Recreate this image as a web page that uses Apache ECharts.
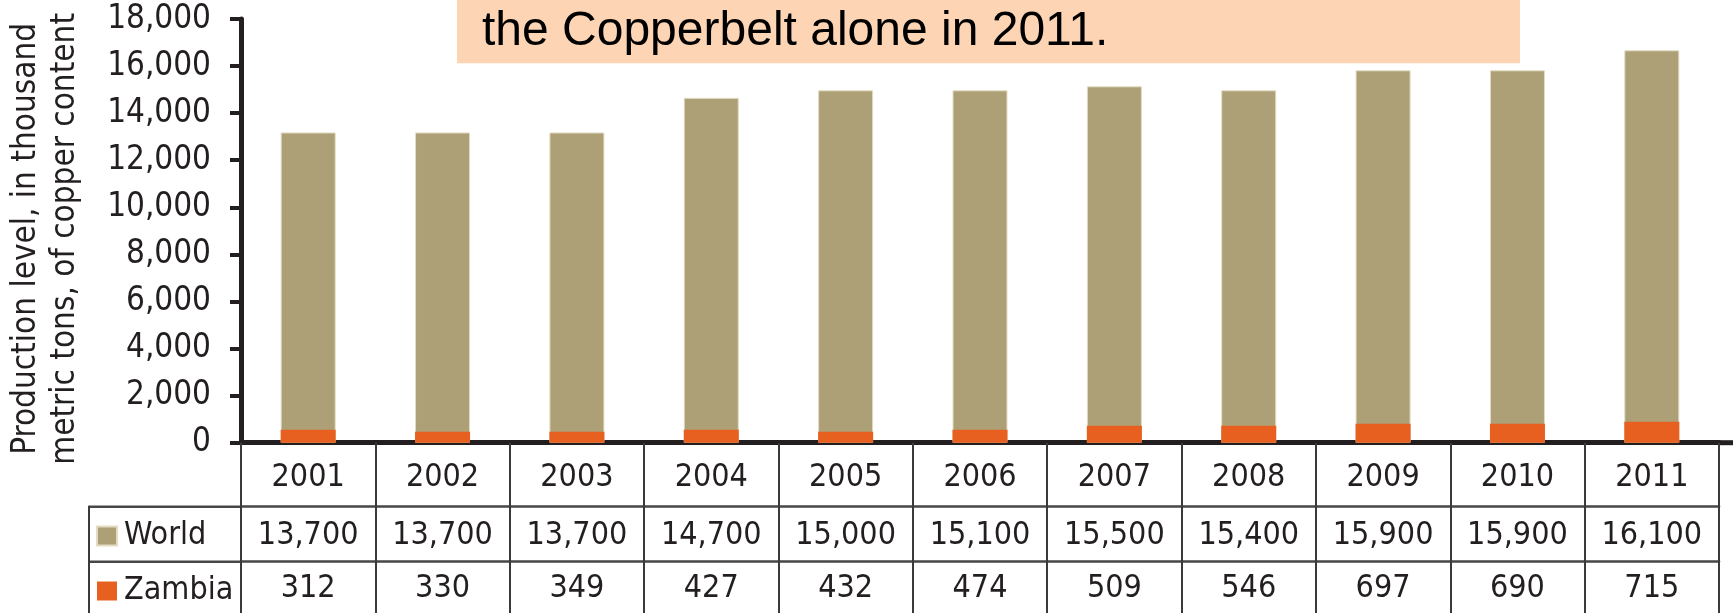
<!DOCTYPE html>
<html>
<head>
<meta charset="utf-8">
<script src="https://cdn.jsdelivr.net/npm/echarts@6/dist/echarts.min.js"></script>
<style>
html, body { margin: 0; padding: 0; background: #ffffff; }
#c { width: 1735px; height: 613px; }
</style>
</head>
<body>
<div id="c"></div>
<script>
// ---- data ----
const years = ['2001', '2002', '2003', '2004', '2005', '2006', '2007', '2008', '2009', '2010', '2011'];
// values printed in the table under the chart
const worldTable = [13700, 13700, 13700, 14700, 15000, 15100, 15500, 15400, 15900, 15900, 16100];
const zambiaTable = [312, 330, 349, 427, 432, 474, 509, 546, 697, 690, 715];
// bar heights as drawn in the picture
const worldBars = [13180, 13180, 13180, 14650, 14970, 14970, 15140, 14970, 15820, 15820, 16670];
const zambiaBars = [555, 460, 460, 555, 460, 555, 720, 720, 805, 805, 890];
const seriesNames = ['World', 'Zambia'];
const yAxisTitle = 'Production level, in thousand\nmetric tons, of copper content';
const headline = 'the Copperbelt alone in 2011.';

// ---- layout / style ----
const W = 1735, H = 613;
const GRID_LEFT = 241, GRID_RIGHT = 16, GRID_TOP = 19, GRID_BOTTOM = 170.3;
const ROW2_OFFSET = 64, ROW3_OFFSET = 119;
const NARROW = '"DejaVu Sans Condensed", "Liberation Sans Narrow", sans-serif';
const INK = '#231f20';
const TAN = '#ad9f76';
const ORANGE = '#e8601f';
const fmt = v => Number(v).toLocaleString('en-US');

const baseY = H - GRID_BOTTOM;
const rightX = W - GRID_RIGHT;

const chart = echarts.init(document.getElementById('c'), null, { renderer: 'canvas' });

const legendBase = {
  orient: 'horizontal',
  left: 96,
  itemWidth: 20,
  itemHeight: 19,
  icon: 'rect',
  selectedMode: false,
  padding: 0,
  textStyle: { fontFamily: NARROW, fontSize: 32, lineHeight: 20, color: INK, padding: [0, 0, 0, 2] }
};

const option = {
  animation: false,
  backgroundColor: '#ffffff',
  title: {
    text: headline,
    left: 477,
    top: 3,
    textStyle: { fontFamily: '"Liberation Sans", Arial, sans-serif', fontSize: 48, fontWeight: 'normal', color: '#000000' }
  },
  legend: [
    Object.assign({}, legendBase, { data: [seriesNames[0]], top: 520 }),
    Object.assign({}, legendBase, { data: [seriesNames[1]], top: 575, left: 97 })
  ],
  grid: {
    left: GRID_LEFT, right: GRID_RIGHT, top: GRID_TOP, bottom: GRID_BOTTOM,
    containLabel: false, outerBoundsMode: 'none'
  },
  yAxis: {
    type: 'value',
    min: 0,
    max: 18000,
    interval: 2000,
    name: yAxisTitle,
    nameLocation: 'middle',
    nameRotate: 90,
    nameGap: 156,
    nameTextStyle: { fontFamily: NARROW, fontSize: 33, lineHeight: 39, color: INK, align: 'center', padding: [0, 16, 0, 0] },
    axisLine: { show: true, lineStyle: { color: INK, width: 5 } },
    axisTick: { show: true, length: 11, lineStyle: { color: INK, width: 4 } },
    splitLine: { show: false },
    axisLabel: { margin: 30, fontFamily: NARROW, fontSize: 33, color: INK, formatter: v => fmt(v) }
  },
  xAxis: [
    {
      type: 'category',
      data: years,
      position: 'bottom',
      boundaryGap: true,
      axisLine: { show: true, onZero: false, lineStyle: { color: INK, width: 5 } },
      axisTick: { show: true, interval: 0, length: 175, lineStyle: { color: '#3a3a3a', width: 2 } },
      axisLabel: { interval: 0, margin: 35, verticalAlign: 'middle', fontFamily: NARROW, fontSize: 32, color: INK }
    },
    {
      type: 'category',
      data: years,
      position: 'bottom',
      offset: ROW2_OFFSET,
      axisLine: { show: true, onZero: false, lineStyle: { color: '#474747', width: 2.5 } },
      axisTick: { show: false },
      axisLabel: { interval: 0, margin: 29, verticalAlign: 'middle', fontFamily: NARROW, fontSize: 32, color: INK,
        formatter: (v, i) => fmt(worldTable[i]) }
    },
    {
      type: 'category',
      data: years,
      position: 'bottom',
      offset: ROW3_OFFSET,
      axisLine: { show: true, onZero: false, lineStyle: { color: '#474747', width: 2.5 } },
      axisTick: { show: false },
      axisLabel: { interval: 0, margin: 27, verticalAlign: 'middle', fontFamily: NARROW, fontSize: 32, color: INK,
        formatter: (v, i) => String(zambiaTable[i]) }
    }
  ],
  graphic: [
    // peach headline box
    { type: 'rect', z: -10, silent: true, shape: { x: 457, y: -5, width: 1063, height: 68.3 }, style: { fill: '#fdd5b5' } },
    // right extension of the baseline
    { type: 'rect', silent: true, shape: { x: rightX - 1, y: baseY - 2.5, width: 15, height: 5 }, style: { fill: INK } },
    // left legend cell of the table
    { type: 'line', silent: true, shape: { x1: 89, y1: baseY + ROW2_OFFSET, x2: GRID_LEFT, y2: baseY + ROW2_OFFSET }, style: { stroke: '#474747', lineWidth: 2.5 } },
    { type: 'line', silent: true, shape: { x1: 89, y1: baseY + ROW3_OFFSET, x2: GRID_LEFT, y2: baseY + ROW3_OFFSET }, style: { stroke: '#474747', lineWidth: 2.5 } },
    { type: 'line', silent: true, shape: { x1: 89, y1: baseY + ROW2_OFFSET - 1, x2: 89, y2: H + 5 }, style: { stroke: '#3a3a3a', lineWidth: 2 } }
  ],
  series: [
    {
      name: seriesNames[0],
      type: 'bar',
      xAxisIndex: 0,
      data: worldBars,
      barWidth: 55,
      barGap: '-100%',
      itemStyle: { color: TAN, borderColor: '#e3dbc2', borderWidth: 1 },
      z: 2
    },
    {
      name: seriesNames[1],
      type: 'bar',
      xAxisIndex: 0,
      data: zambiaBars,
      barWidth: 55,
      barGap: '-100%',
      itemStyle: { color: ORANGE },
      z: 3
    }
  ]
};
chart.setOption(option);
</script>
</body>
</html>
